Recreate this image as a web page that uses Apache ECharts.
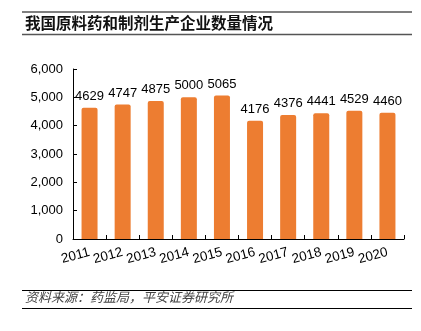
<!DOCTYPE html>
<html><head><meta charset="utf-8">
<script src="https://cdn.jsdelivr.net/npm/echarts@6/dist/echarts.min.js"></script>
<style>html,body{margin:0;padding:0;background:#fff}#c{width:421px;height:331px}</style>
</head><body><div id="c"></div>
<script>
const categories = ['2011','2012','2013','2014','2015','2016','2017','2018','2019','2020'];
const values = [4629,4747,4875,5000,5065,4176,4376,4441,4529,4460];
const titleText = '我国原料药和制剂生产企业数量情况';
const sourceText = '资料来源：药监局，平安证券研究所';

const chart = echarts.init(document.getElementById('c'));
chart.setOption({
  animation:false,
  grid:{left:73,right:17,top:69,bottom:92},
  xAxis:{type:'category',data:categories,
    axisLine:{lineStyle:{color:'#000',width:1}},
    axisTick:{show:true,inside:true,length:4,lineStyle:{color:'#000'}},
    axisLabel:{color:'#000',fontSize:13.5,fontFamily:'Liberation Sans, Arial',rotate:15,margin:13,interval:0}},
  yAxis:{type:'value',min:0,max:6000,interval:1000,
    axisLine:{show:true,lineStyle:{color:'#000'}},
    axisTick:{show:true,inside:true,length:4,lineStyle:{color:'#000'}},
    splitLine:{show:false},
    axisLabel:{color:'#000',fontSize:13,fontFamily:'Liberation Sans, Arial',margin:10,
      formatter:v=>v.toLocaleString('en-US')}},
  series:[{type:'bar',data:values,barWidth:16,
    itemStyle:{color:'#ED7D31',borderRadius:[2,2,0,0]},
    label:{show:true,position:'top',distance:5,color:'#000',fontSize:13,fontFamily:'Liberation Sans, Arial'}}],
  graphic:[
    {type:'line',shape:{x1:22,y1:12,x2:412,y2:12},style:{stroke:'#555',lineWidth:1.5}},
    {type:'line',shape:{x1:22,y1:34.5,x2:412,y2:34.5},style:{stroke:'#555',lineWidth:1.5}},
    {type:'text',left:25,top:15,style:{text:titleText,font:'bold 15.5px "Noto Sans CJK SC"',fill:'#111'}},
    {type:'line',shape:{x1:22,y1:290.5,x2:412,y2:290.5},style:{stroke:'#000',lineWidth:1}},
    {type:'line',shape:{x1:22,y1:308.5,x2:412,y2:308.5},style:{stroke:'#000',lineWidth:1}},
    {type:'text',left:25,top:291,style:{text:sourceText,font:'italic 13px "Noto Sans CJK SC"',fill:'#444'}}
  ]
});
</script></body></html>
